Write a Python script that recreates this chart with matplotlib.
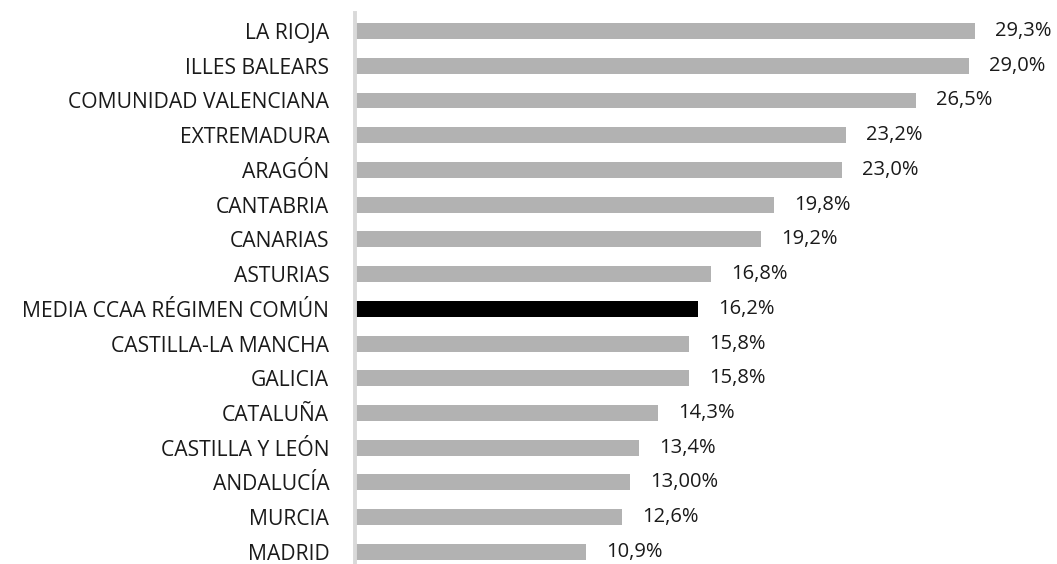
import matplotlib
matplotlib.use('Agg')
import matplotlib.pyplot as plt

# Regions and their values (%)
regiones = ['LA RIOJA', 'ILLES BALEARS', 'COMUNIDAD VALENCIANA', 'EXTREMADURA',
            'ARAGÓN', 'CANTABRIA', 'CANARIAS', 'ASTURIAS',
            'MEDIA CCAA RÉGIMEN COMÚN', 'CASTILLA-LA MANCHA', 'GALICIA',
            'CATALUÑA', 'CASTILLA Y LEÓN', 'ANDALUCÍA', 'MURCIA', 'MADRID']
valores = [29.3, 29.0, 26.5, 23.2, 23.0, 19.8, 19.2, 16.8,
           16.2, 15.8, 15.8, 14.3, 13.4, 13.0, 12.6, 10.9]
etiquetas = ['29,3%', '29,0%', '26,5%', '23,2%', '23,0%', '19,8%', '19,2%', '16,8%',
             '16,2%', '15,8%', '15,8%', '14,3%', '13,4%', '13,00%', '12,6%', '10,9%']
destacado = 'MEDIA CCAA RÉGIMEN COMÚN'

plt.rcParams['font.family'] = ['Open Sans', 'DejaVu Sans']

fig = plt.figure(figsize=(10.57, 5.64), dpi=100)
ax = fig.add_axes([355 / 1057, 0, 635 / 1057, 1 - 13 / 564])

colores = ['#000000' if r == destacado else '#b2b2b2' for r in regiones]
y = range(len(regiones))
ax.barh(y, valores, height=0.46, color=colores)

for i, (v, t) in enumerate(zip(valores, etiquetas)):
    ax.annotate(t, (v, i), xytext=(14.5, 0), textcoords='offset points',
                va='center', ha='left', fontsize=14.5, color='#1a1a1a')

ax.set_xlim(0, 30)
ax.set_ylim(15.35, -0.52)
ax.set_yticks(list(y))
ax.set_yticklabels(regiones, fontsize=15.2, color='#1a1a1a')
ax.tick_params(axis='y', length=0, pad=18.5)
ax.set_xticks([])

for s in ['top', 'right', 'bottom']:
    ax.spines[s].set_visible(False)
ax.spines['left'].set_color('#d9d9d9')
ax.spines['left'].set_linewidth(2.8)

fig.savefig('out.png', dpi=100)
